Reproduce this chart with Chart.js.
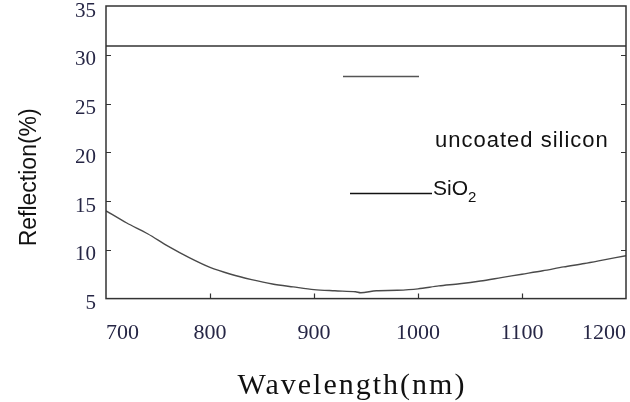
<!DOCTYPE html>
<html><head><meta charset="utf-8">
<script src="https://cdn.jsdelivr.net/npm/chart.js@4/dist/chart.umd.min.js"></script>
<style>html,body{margin:0;padding:0;background:#fff}#wrap{width:630px;height:402px}</style>
</head><body><div id="wrap"><canvas id="c" width="630" height="402"></canvas></div>
<script>
// ---- data ----
const wavelengths = [700,720,740,760,780,800,820,840,860,880,900,920,940,945,960,980,1000,1020,1040,1060,1080,1100,1120,1140,1160,1180,1200];
const sio2Reflection = [14.0,12.75,11.65,10.35,9.2,8.2,7.5,6.95,6.5,6.2,5.92,5.8,5.7,5.6,5.8,5.85,6.0,6.3,6.52,6.8,7.15,7.5,7.85,8.25,8.6,9.0,9.4];
const uncoatedWavelengths = [700,1200];
const uncoatedReflection = [30.9,30.9];
const xTickValues = [700,800,900,1000,1100,1200];
const yTickValues = [5,10,15,20,25,30,35];
const seriesNames = ['uncoated silicon','SiO'];
const seriesSubscripts = ['','2'];
const xTitle = 'Wavelength(nm)';
const yTitle = 'Reflection(%)';

const toPts = (xs, ys) => xs.map((x, i) => ({x: x, y: ys[i]}));

const decor = {
  id: 'decor',
  afterDraw(chart) {
    const {ctx, chartArea: a, scales: {x, y}} = chart;
    ctx.save();
    // frame
    ctx.strokeStyle = '#333';
    ctx.lineWidth = 1.5;
    ctx.strokeRect(a.left, a.top, a.right - a.left, a.bottom - a.top);
    // inward tick marks
    ctx.lineWidth = 1.2;
    ctx.beginPath();
    y.ticks.forEach(t => {
      if (t.value <= y.min || t.value >= y.max) return;
      const py = Math.round(y.getPixelForValue(t.value)) + 0.5;
      ctx.moveTo(a.left, py); ctx.lineTo(a.left + 5, py);
      ctx.moveTo(a.right, py); ctx.lineTo(a.right - 5, py);
    });
    x.ticks.forEach(t => {
      if (t.value <= x.min || t.value >= x.max) return;
      const px = Math.round(x.getPixelForValue(t.value)) + 0.5;
      ctx.moveTo(px, a.bottom); ctx.lineTo(px, a.bottom - 5);
    });
    ctx.stroke();

    // y title
    ctx.fillStyle = '#111';
    ctx.font = '23px "Liberation Sans", Arial, sans-serif';
    ctx.textAlign = 'center';
    ctx.textBaseline = 'middle';
    ctx.save();
    ctx.translate(a.left - 76, (a.top + a.bottom) / 2 + 25);
    ctx.rotate(-Math.PI / 2);
    ctx.fillText(yTitle, 0, 0);
    ctx.restore();

    // x title
    ctx.font = '30px "Liberation Serif", "Times New Roman", serif';
    ctx.letterSpacing = '2px';
    ctx.fillText(xTitle, (a.left + a.right) / 2 - 14, a.bottom + 88);
    ctx.letterSpacing = '0px';

    // legend (as drawn in the reference)
    const L = a.left, T = a.top;
    ctx.lineWidth = 1.5;
    ctx.strokeStyle = '#555';
    ctx.beginPath(); ctx.moveTo(L + 237, T + 70.5); ctx.lineTo(L + 313, T + 70.5); ctx.stroke();
    ctx.strokeStyle = '#111';
    ctx.beginPath(); ctx.moveTo(L + 244, T + 187.5); ctx.lineTo(L + 326, T + 187.5); ctx.stroke();

    ctx.textAlign = 'left';
    ctx.textBaseline = 'alphabetic';
    ctx.fillStyle = '#111';
    ctx.font = '22px "Liberation Sans", Arial, sans-serif';
    ctx.letterSpacing = '1px';
    ctx.fillText(seriesNames[0], L + 329, T + 141);
    ctx.letterSpacing = '0px';
    ctx.font = '21px "Liberation Sans", Arial, sans-serif';
    ctx.fillText(seriesNames[1], L + 327, T + 189);
    const w = ctx.measureText(seriesNames[1]).width;
    ctx.font = '15px "Liberation Sans", Arial, sans-serif';
    ctx.fillText(seriesSubscripts[1], L + 327 + w, T + 196);
    ctx.restore();
  }
};

new Chart(document.getElementById('c'), {
  type: 'line',
  data: {
    datasets: [
      {label: 'uncoated silicon', data: toPts(uncoatedWavelengths, uncoatedReflection), borderColor: '#333', borderWidth: 1.5, pointRadius: 0, tension: 0},
      {label: 'SiO2', data: toPts(wavelengths, sio2Reflection), borderColor: '#4a4a4a', borderWidth: 1.4, pointRadius: 0, tension: 0.3}
    ]
  },
  options: {
    responsive: false,
    animation: false,
    devicePixelRatio: 1,
    layout: {padding: {left: 76, right: 4, top: 6, bottom: 35}},
    plugins: {legend: {display: false}, tooltip: {enabled: false}},
    scales: {
      x: {
        type: 'linear', min: 700, max: 1200,
        afterBuildTicks: s => { s.ticks = xTickValues.map(v => ({value: v})); },
        afterFit: s => { s.paddingLeft = 0; s.paddingRight = 0; },
        grid: {display: false, drawTicks: false},
        border: {display: false},
        ticks: {align: 'inner', padding: 21, maxRotation: 0, autoSkip: false, color: '#262645',
                font: {family: '"Liberation Serif", "Times New Roman", serif', size: 22},
                callback: v => String(v)}
      },
      y: {
        min: 5, max: 35,
        afterBuildTicks: s => { s.ticks = yTickValues.map(v => ({value: v})); },
        afterFit: s => { s.width = 30; s.paddingTop = 0; s.paddingBottom = 0; },
        grid: {display: false, drawTicks: false},
        border: {display: false},
        ticks: {padding: 10, labelOffset: 5, color: '#262645',
                font: {family: '"Liberation Serif", "Times New Roman", serif', size: 21},
                callback: v => String(v)}
      }
    }
  },
  plugins: [decor]
});
</script>
</body></html>
